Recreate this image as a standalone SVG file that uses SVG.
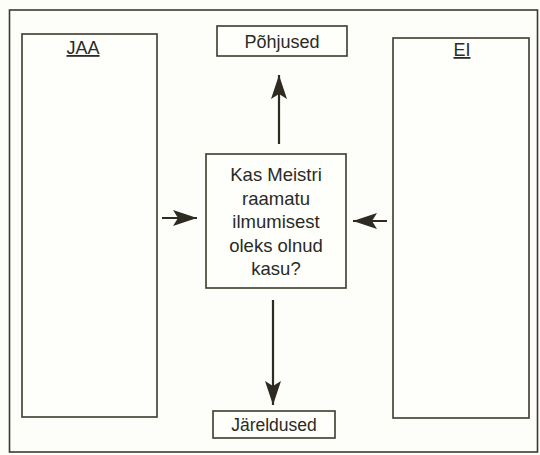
<svg xmlns="http://www.w3.org/2000/svg" width="540" height="455" viewBox="0 0 540 455">
<defs>
<style>
.box{fill:#fefefb;stroke:#3d3a2c;stroke-width:1.6}
.t{font-family:"Liberation Sans",Arial,sans-serif;fill:#2a2a26;text-anchor:middle}
.c{stroke:#2e2b22;stroke-width:2.2;fill:none}
</style>
<marker id="ah" viewBox="0 0 24 16" refX="24" refY="8" markerWidth="24" markerHeight="16" markerUnits="userSpaceOnUse" orient="auto">
<path d="M0,0 L24,8 L0,16 L5,8 Z" fill="#2e2b22"/>
</marker>
</defs>
<rect width="540" height="455" fill="#fdfdf9"/>
<g id="frame"><rect x="9.5" y="10" width="528" height="442" fill="none" stroke="#3d3a2c" stroke-width="1.6"/></g>
<g id="jaa"><rect class="box" x="22" y="34" width="135" height="383"/><text class="t" x="83" y="54" font-size="18" text-decoration="underline">JAA</text></g>
<g id="ei"><rect class="box" x="393" y="38" width="136" height="380"/><text class="t" x="462" y="56" font-size="18" text-decoration="underline">EI</text></g>
<g id="pohjused"><rect class="box" x="217" y="26" width="130" height="30"/><text class="t" x="282" y="48" font-size="18">Põhjused</text></g>
<g id="center"><rect class="box" x="206" y="154" width="140" height="134"/>
<text class="t" font-size="18.5"><tspan x="276" y="181">Kas Meistri</tspan><tspan x="276" y="204.5">raamatu</tspan><tspan x="276" y="228">ilmumisest</tspan><tspan x="276" y="251.5">oleks olnud</tspan><tspan x="276" y="275">kasu?</tspan></text></g>
<g id="jareldused"><rect class="box" x="213" y="411" width="122" height="27"/><text class="t" x="274" y="430.5" font-size="17.5">Järeldused</text></g>
<g id="connectors">
<line class="c" x1="279" y1="144" x2="279" y2="75" marker-end="url(#ah)"/>
<line class="c" x1="273" y1="300" x2="273" y2="405" marker-end="url(#ah)"/>
<line class="c" x1="162" y1="218" x2="197" y2="218" marker-end="url(#ah)"/>
<line class="c" x1="387" y1="221" x2="353" y2="221" marker-end="url(#ah)"/>
</g>
</svg>
